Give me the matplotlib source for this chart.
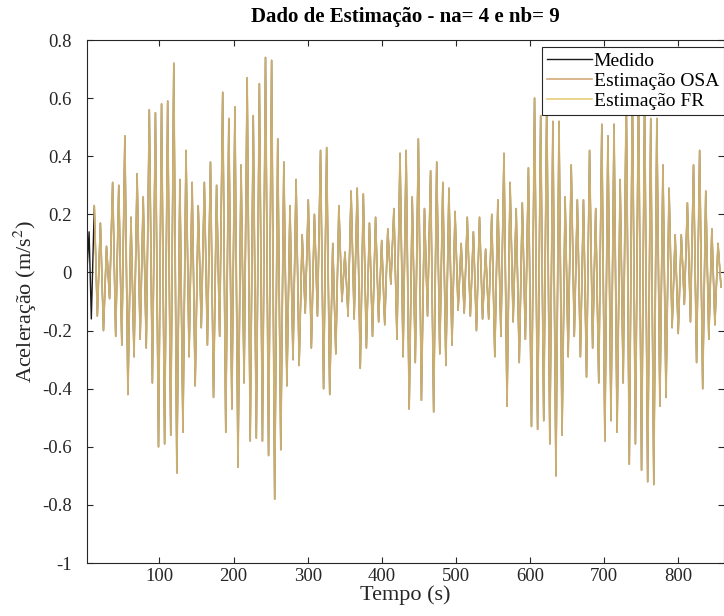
import numpy as np
import matplotlib
matplotlib.use("Agg")
import matplotlib.pyplot as plt

# Picos (máximo, mínimo) de cada oscilação, da esquerda p/ direita
picos = [
    0.23, 0.17, 0.09, 0.31, 0.30, 0.47, 0.19, 0.34, 0.26, 0.56, 0.55, 0.58,
    0.59, 0.72, 0.32, 0.42, 0.31, 0.23, 0.31, 0.38, 0.30, 0.62, 0.53, 0.57, 0.37, 0.67,
    0.54, 0.65, 0.74, 0.73, 0.46, 0.38, 0.23, 0.32, 0.13, 0.25, 0.20, 0.42, 0.43,
    0.10, 0.23, 0.07, 0.28, 0.29, 0.27, 0.17, 0.19, 0.11, 0.15, 0.22, 0.41, 0.42,
    0.26, 0.46, 0.22, 0.35, 0.38, 0.31, 0.29, 0.21, 0.10, 0.19, 0.14, 0.19,
    0.08, 0.20, 0.25, 0.41, 0.31, 0.22, 0.24, 0.36, 0.60, 0.54, 0.60, 0.52, 0.52, 0.26,
    0.37, 0.25, 0.25, 0.42, 0.22, 0.51, 0.47, 0.51, 0.32, 0.62, 0.63, 0.64, 0.62,
    0.53, 0.53, 0.37, 0.29, 0.13, 0.13, 0.24, 0.37, 0.42, 0.28, 0.15, 0.10,
]
vales = [
    -0.15, -0.20, -0.09, -0.22, -0.25, -0.42, -0.29, -0.23, -0.26, -0.38, -0.60, -0.59,
    -0.56, -0.69, -0.55, -0.29, -0.39, -0.19, -0.25, -0.43, -0.22, -0.55, -0.47, -0.67, -0.38, -0.58,
    -0.57, -0.58, -0.63, -0.78, -0.61, -0.39, -0.30, -0.32, -0.14, -0.26, -0.15, -0.40, -0.42,
    -0.28, -0.10, -0.15, -0.16, -0.33, -0.26, -0.22, -0.17, -0.18, -0.04, -0.23, -0.29, -0.47,
    -0.31, -0.44, -0.15, -0.48, -0.28, -0.32, -0.25, -0.13, -0.14, -0.15, -0.20, -0.16,
    -0.16, -0.29, -0.22, -0.46, -0.17, -0.31, -0.23, -0.53, -0.54, -0.51, -0.59, -0.70, -0.56, -0.29,
    -0.22, -0.29, -0.36, -0.26, -0.38, -0.58, -0.51, -0.55, -0.38, -0.66, -0.59, -0.68, -0.72,
    -0.73, -0.46, -0.43, -0.19, -0.21, -0.11, -0.17, -0.31, -0.40, -0.23, -0.18, -0.05,
]
# primeiras amostras medidas (antes do início da estimação)
inicio_t = [2, 5, 8]
inicio_y = [0.0, 0.14, -0.16]

t_ini, t_fim = 12, 858

def main():
    y_est = np.ravel(np.column_stack([picos, vales]))
    t_est = np.linspace(t_ini, t_fim, len(y_est))

    t_med = np.concatenate([inicio_t, t_est])
    y_med = np.concatenate([inicio_y, y_est])

    plt.rcParams['font.family'] = ['Liberation Serif', 'DejaVu Serif']
    plt.rcParams['mathtext.fontset'] = 'stix'

    fig = plt.figure(figsize=(7.24, 6.16), dpi=100)
    ax = fig.add_axes([0.120, 0.086, 0.880, 0.849])

    ax.plot(t_med, y_med, color='#1a1a1a', lw=1.0, label='Medido')
    ax.plot(t_est, y_est, color='#D6A878', lw=1.2, alpha=0.7, label='Estimação OSA')
    ax.plot(t_est, y_est, color='#E6CE7A', lw=1.2, alpha=0.6, label='Estimação FR')

    ax.set_xlim(2, 862)
    ax.set_ylim(-1, 0.8)
    ax.set_xticks([100, 200, 300, 400, 500, 600, 700, 800])
    yt = [-1, -0.8, -0.6, -0.4, -0.2, 0, 0.2, 0.4, 0.6, 0.8]
    ax.set_yticks(yt)
    ax.set_yticklabels(['%g' % v for v in yt])
    ax.tick_params(direction='in', top=True, right=True, labelsize=13.5, length=4,
                   color='#262626', labelcolor='#262626')
    ax.tick_params(axis='y', pad=11)
    for s in ax.spines.values():
        s.set_color('#262626')
        s.set_linewidth(0.8)

    ax.set_title('Dado de Estimação - na= 4 e nb= 9', fontsize=15, fontweight='bold', pad=13)
    ax.set_xlabel('Tempo (s)', fontsize=16, labelpad=0, color='#262626')
    ax.set_ylabel('Aceleração (m/s$^2$)', fontsize=16, labelpad=2, color='#262626')

    leg = ax.legend(loc='upper right', bbox_to_anchor=(1.0, 0.986), borderaxespad=0,
                    fontsize=14, fancybox=False, framealpha=1, edgecolor='#262626',
                    handlelength=2.3, labelspacing=0.12, borderpad=0.25,
                    handletextpad=0.1)
    leg.get_frame().set_linewidth(0.8)
    for ln in leg.get_lines():
        ln.set_alpha(1)

    fig.savefig('out.png', dpi=100)

if __name__ == '__main__':
    main()
